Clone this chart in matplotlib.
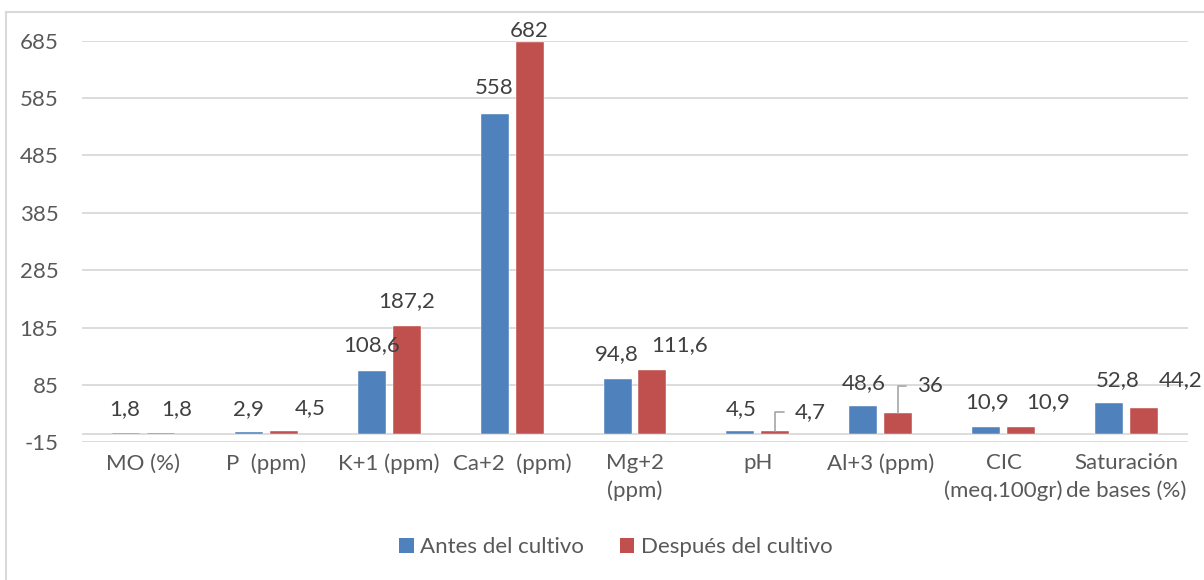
import matplotlib
matplotlib.use("Agg")
import matplotlib.pyplot as plt
from matplotlib.patches import Patch
from matplotlib.lines import Line2D
import numpy as np

plt.rcParams['font.family'] = ['Lato', 'DejaVu Sans']

# --- data -------------------------------------------------------------
categories = ["MO (%)", "P  (ppm)", "K+1 (ppm)", "Ca+2  (ppm)", "Mg+2\n(ppm)",
              "pH", "Al+3 (ppm)", "CIC\n(meq.100gr)", "Saturación\nde bases (%)"]
antes = [1.8, 2.9, 108.6, 558, 94.8, 4.5, 48.6, 10.9, 52.8]
despues = [1.8, 4.5, 187.2, 682, 111.6, 4.7, 36, 10.9, 44.2]
antes_labels = ["1,8", "2,9", "108,6", "558", "94,8", "4,5", "48,6", "10,9", "52,8"]
despues_labels = ["1,8", "4,5", "187,2", "682", "111,6", "4,7", "36", "10,9", "44,2"]
yticks = [-15, 85, 185, 285, 385, 485, 585, 685]
series_names = ["Antes del cultivo", "Después del cultivo"]

# --- styling ----------------------------------------------------------
BLUE = "#4F81BD"
RED = "#C0504D"
GRID = "#D9D9D9"
TICK_TXT = "#595959"
LBL_TXT = "#404040"
FS = 16
DPI = 100

# label placement relative to the top of each bar, in pixels (dx, dy)
antes_off = [(-1, 24), (0, 23), (0, 26), (0, 26), (-1, 25), (1, 22), (0, 23), (1, 25), (9, 23)]
despues_off = [(16, 24), (26, 23), (0, 25), (0, 11), (27, 25), (35, 19), (32, 27), (27, 25), (37, 28)]
leader = [False, False, False, False, False, True, True, False, False]

fig = plt.figure(figsize=(1204 / DPI, 580 / DPI), dpi=DPI)
ax = fig.add_axes([82 / 1204, 1 - 442.3 / 580, (1188 - 82) / 1204, (442.3 - 40.7) / 580])

x = np.arange(len(categories))
w = 0.228
off = 0.142
b1 = ax.bar(x - off, antes, width=w, color=BLUE, edgecolor="white", linewidth=0.3, zorder=3)
b2 = ax.bar(x + off, despues, width=w, color=RED, edgecolor="white", linewidth=0.3, zorder=3)

ax.set_xlim(-0.5, len(categories) - 0.5)
ax.set_ylim(-15, 685)
ax.set_yticks(yticks)
ax.set_yticklabels([str(v) for v in yticks])
ax.set_xticks(x)
ax.set_xticklabels(categories, linespacing=1.45)
ax.tick_params(axis="both", length=0, labelsize=FS, labelcolor=TICK_TXT)
ax.tick_params(axis="y", pad=17)
ax.tick_params(axis="x", pad=8)

for s in ax.spines.values():
    s.set_visible(False)
ax.grid(axis="y", color=GRID, linewidth=1.3, zorder=0)
ax.axhline(0, color=GRID, linewidth=1.3, zorder=2)

px = 72 / DPI

for bars, texts, offsets, lead in ((b1, antes_labels, antes_off, [False] * len(antes)),
                                   (b2, despues_labels, despues_off, leader)):
    for bar, t, (dx, dy), ld in zip(bars, texts, offsets, lead):
        xc = bar.get_x() + bar.get_width() / 2
        yt = bar.get_height()
        kw = dict(ha="center", va="center", fontsize=FS, color=LBL_TXT, zorder=5,
                  annotation_clip=False, textcoords="offset points")
        if ld:
            kw["arrowprops"] = dict(arrowstyle="-", color="#A6A6A6", lw=1.2,
                                    connectionstyle="angle,angleA=0,angleB=90,rad=0",
                                    relpos=(0, 0.5), shrinkA=6, shrinkB=0)
        ax.annotate(t, xy=(xc, yt), xytext=(dx * px, dy * px), **kw)

# chart area border
fig.add_artist(Line2D([6 / 1204, 1.0], [1 - 12 / 580] * 2, color=GRID, lw=1.5,
                      transform=fig.transFigure))
fig.add_artist(Line2D([6 / 1204] * 2, [0.0, 1 - 12 / 580], color=GRID, lw=1.5,
                      transform=fig.transFigure))

handles = [Patch(facecolor=BLUE, edgecolor="none"), Patch(facecolor=RED, edgecolor="none")]
fig.legend(handles, series_names, loc="center", bbox_to_anchor=(616 / 1204, 1 - 547 / 580),
           ncol=2, frameon=False, fontsize=FS, labelcolor=TICK_TXT,
           handlelength=0.65, handleheight=0.65, handletextpad=0.3, columnspacing=1.6)

fig.savefig("out.png", dpi=DPI)
